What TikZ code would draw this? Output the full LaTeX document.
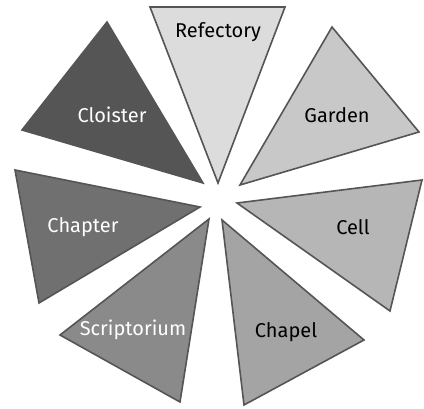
\documentclass[tikz,border=0pt]{standalone}
\usepackage{fontspec}
\setmainfont{Fira Sans}
\usepackage{xcolor}
\definecolor{edgegray}{HTML}{555555}
\definecolor{cloister}{HTML}{555555}
\definecolor{refectory}{HTML}{DCDCDC}
\definecolor{garden}{HTML}{C8C8C8}
\definecolor{cell}{HTML}{B6B6B6}
\definecolor{chapel}{HTML}{A4A4A4}
\definecolor{scriptorium}{HTML}{8A8A8A}
\definecolor{chapter}{HTML}{707070}

\begin{document}
\begin{tikzpicture}[
  x=1pt, y=-1pt,
  font=\fontsize{20}{24}\selectfont,
  wedge/.style={draw=edgegray,line width=1.6pt,line join=miter},
  lbl/.style={inner sep=1pt,anchor=center},
  dark/.style={lbl,text=white},
  light/.style={lbl,text=black}
]
\useasboundingbox (0,0) rectangle (424,409);
% wedges round the centre
\draw[wedge, fill=cloister] (107,22) -- (22,130) -- (203,183) -- cycle;
\draw[wedge, fill=refectory] (150,7) -- (285,7) -- (218,183) -- cycle;
\draw[wedge, fill=garden] (332,27) -- (419,132) -- (240,185) -- cycle;
\draw[wedge, fill=cell] (237,203) -- (422,180) -- (390,311) -- cycle;
\draw[wedge, fill=chapel] (222,220) -- (364,340) -- (244,405) -- cycle;
\draw[wedge, fill=scriptorium] (209,219) -- (60,335) -- (180,402) -- cycle;
\draw[wedge, fill=chapter] (15,170) -- (200,207) -- (39,303) -- cycle;
% labels
\node[dark] (lcloister) at (112,115) {Cloister};
\node[light] (lrefectory) at (218,32) {Refectory};
\node[light] (lgarden) at (337,115) {Garden};
\node[light] (lcell) at (353,227) {Cell};
\node[light] (lchapel) at (286,332) {Chapel};
\node[dark] (lscript) at (133,330) {Scriptorium};
\node[dark] (lchapter) at (83,227) {Chapter};
\end{tikzpicture}
\end{document}
